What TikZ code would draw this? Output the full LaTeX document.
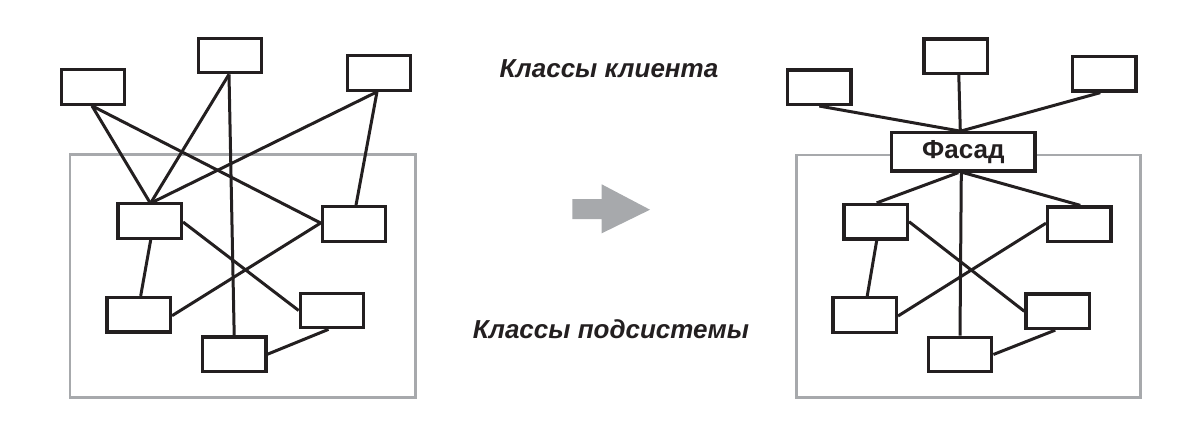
\documentclass[tikz,border=0pt]{standalone}
\usepackage{fontspec}
\setmainfont{Liberation Sans}
\definecolor{ink}{HTML}{231F20}
\definecolor{frame}{HTML}{A7A9AC}
\definecolor{arr}{HTML}{A7A9AC}
\begin{document}
\begin{tikzpicture}[x=1pt,y=-1pt,
  cls/.style={draw=ink,line width=3.2pt,fill=white,minimum width=63.5pt,minimum height=34.5pt,inner sep=0pt},
  link/.style={draw=ink,line width=3pt},
  sub/.style={draw=frame,line width=2.8pt},
  lbl/.style={font=\bfseries\itshape\fontsize{26}{26}\selectfont,text=ink,anchor=base,inner sep=0pt}]
\useasboundingbox (0,0) rectangle (1198,432);
% subsystem frames
\draw[sub] (70,154.3) rectangle (415.7,397.3);
\draw[sub] (796.7,155) rectangle (1140.7,397.3);
% left diagram
\node[cls] (L1) at (93,87) {};
\node[cls] (L2) at (230,55.5) {};
\node[cls] (L3) at (379,73) {};
\node[cls] (S1) at (149.7,221) {};
\node[cls] (S2) at (354,224) {};
\node[cls] (S3) at (138.7,314.7) {};
\node[cls] (S4) at (332,310.5) {};
\node[cls] (S5) at (234.2,354.2) {};
\draw[link] ([xshift=-1pt]L1.south) -- (S1.north);
\draw[link] ([xshift=-1pt]L1.south) -- ([yshift=1pt]S2.west);
\draw[link] ([xshift=-1pt]L2.south) -- ([xshift=1.5pt]S1.north);
\draw[link] ([xshift=-1pt]L2.south) -- (S5.north);
\draw[link] ([xshift=-2pt]L3.south) -- ([xshift=3pt]S1.north);
\draw[link] ([xshift=-2pt]L3.south) -- ([xshift=2pt]S2.north);
\draw[link] ([xshift=1pt]S1.south) -- ([xshift=2pt]S3.north);
\draw[link] ([yshift=-1pt]S1.east) -- (S4.west);
\draw[link] ([yshift=1pt]S2.west) -- ([yshift=-1pt]S3.east);
\draw[link] ([xshift=-3.5pt]S4.south) -- (S5.east);
% arrow
\fill[arr] (572.3,199) -- (601.7,199) -- (601.7,184.3) -- (650,209.7) -- (601.7,233.3) -- (601.7,219) -- (572.3,219) -- cycle;
% labels
\node[lbl] (client) at (609,77.7) {Классы клиента};
\node[lbl] (subsys) at (611,338) {Классы подсистемы};
% right diagram
\node[cls] (R1) at (819.3,87.2) {};
\node[cls] (R2) at (955.8,56.3) {};
\node[cls] (R3) at (1104.3,73.8) {};
\node[cls,minimum width=143.5pt,minimum height=38.5pt,font=\bfseries\fontsize{26}{26}\selectfont,text=ink] (F) at (963.3,151.8) {Фасад};
\node[cls] (T1) at (875.7,221.7) {};
\node[cls] (T2) at (1079.3,224.2) {};
\node[cls] (T3) at (864.7,315) {};
\node[cls] (T4) at (1057.7,311.3) {};
\node[cls] (T5) at (960,354.5) {};
\draw[link] (R1.south) -- ([xshift=-4pt]F.north);
\draw[link] ([xshift=3pt]R2.south) -- ([xshift=-3pt]F.north);
\draw[link] ([xshift=-4pt]R3.south) -- ([xshift=-2pt]F.north);
\draw[link] ([xshift=-5pt]F.south) -- ([xshift=1pt]T1.north);
\draw[link] ([xshift=-2pt]F.south) -- (T5.north);
\draw[link] ([xshift=0pt]F.south) -- ([xshift=1pt]T2.north);
\draw[link] ([xshift=1pt]T1.south) -- ([xshift=2.5pt]T3.north);
\draw[link] (T1.east) -- (T4.west);
\draw[link] ([yshift=1pt]T2.west) -- ([yshift=-1pt]T3.east);
\draw[link] ([xshift=-2.5pt]T4.south) -- (T5.east);
\end{tikzpicture}
\end{document}
